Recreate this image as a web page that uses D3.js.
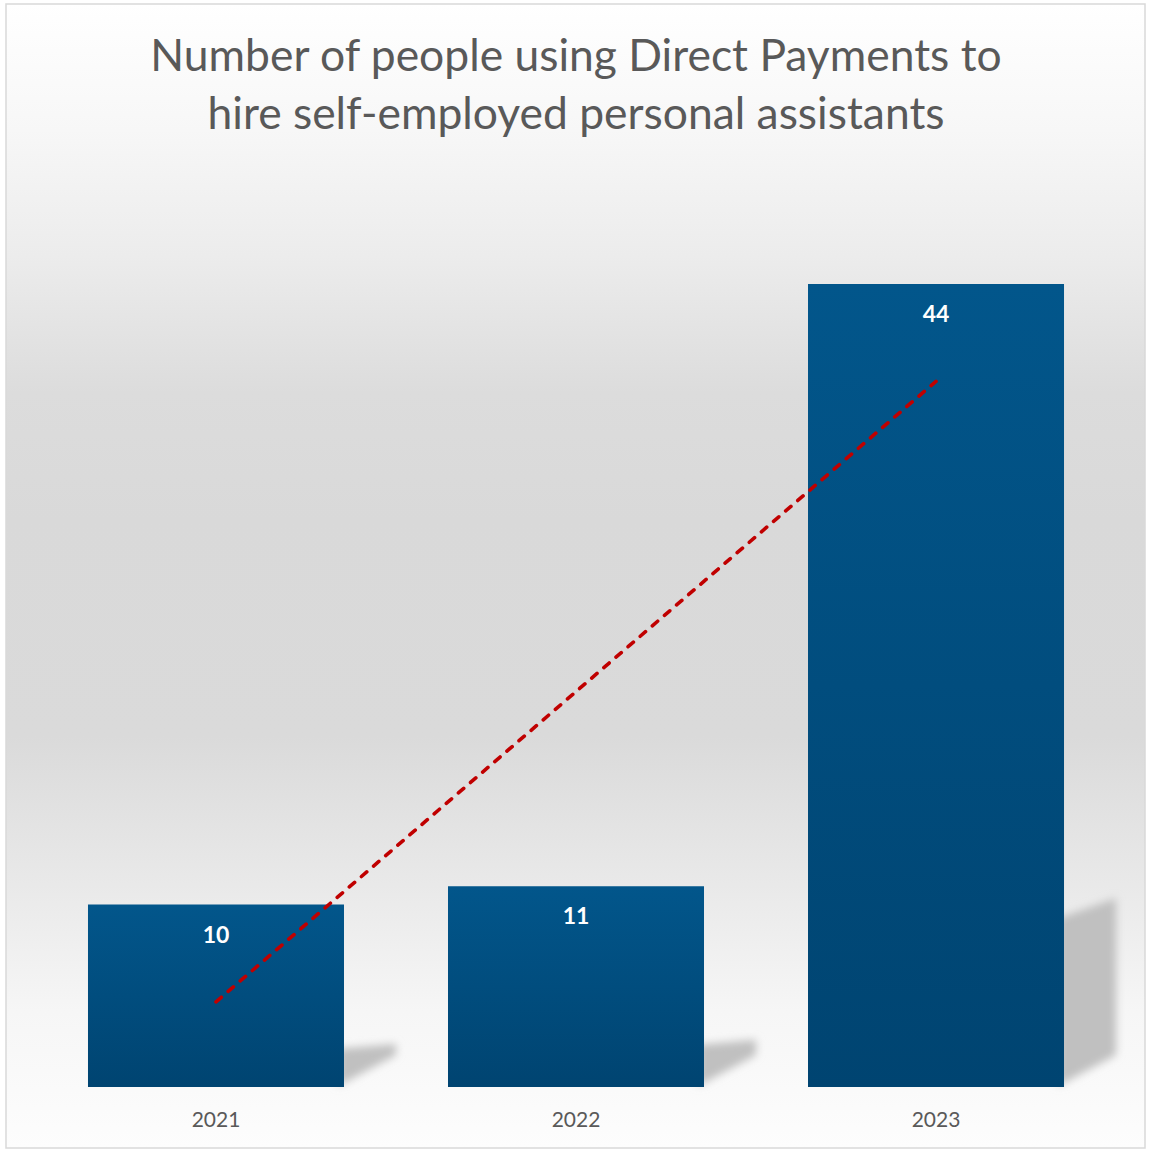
<!DOCTYPE html>
<html>
<head>
<meta charset="utf-8">
<script src="https://cdn.jsdelivr.net/npm/d3@7"></script>
<style>
  html, body { margin: 0; padding: 0; background: #ffffff; }
  svg { display: block; }
</style>
</head>
<body>
<script>
// Chart data
const years = ["2021", "2022", "2023"];
const people = [10, 11, 44];
const titleLines = ["Number of people using Direct Payments to", "hire self-employed personal assistants"];

const W = 1153, H = 1152;
const frame = { x: 6, y: 4, w: 1139, h: 1144 };
const base = 1087;

const svg = d3.select("body").append("svg")
  .attr("width", W).attr("height", H);

const defs = svg.append("defs");

// Chart area background: white at top and bottom, grey in the middle
const bg = defs.append("linearGradient").attr("id", "bgGrad")
  .attr("x1", 0).attr("y1", 0).attr("x2", 0).attr("y2", 1);
[[0, "#ffffff"], [0.11, "#f7f7f7"], [0.22, "#ececec"], [0.34, "#dcdcdc"],
 [0.45, "#d9d9d9"], [0.64, "#dadada"], [0.77, "#e9e9e9"], [0.88, "#f6f6f6"], [1, "#fdfdfd"]]
  .forEach(([o, c]) => bg.append("stop").attr("offset", o).attr("stop-color", c));

// Bar fill gradient
const barGrad = defs.append("linearGradient").attr("id", "barGrad")
  .attr("x1", 0).attr("y1", 0).attr("x2", 0).attr("y2", 1);
barGrad.append("stop").attr("offset", 0).attr("stop-color", "#02568b");
barGrad.append("stop").attr("offset", 1).attr("stop-color", "#004471");

// Soft blur for the cast shadows
defs.append("filter").attr("id", "shadowBlur")
  .attr("x", "-20%").attr("y", "-20%").attr("width", "140%").attr("height", "140%")
  .append("feGaussianBlur").attr("stdDeviation", 4);

svg.append("rect")
  .attr("x", frame.x).attr("y", frame.y)
  .attr("width", frame.w).attr("height", frame.h)
  .attr("fill", "url(#bgGrad)")
  .attr("stroke", "#d9d9d9").attr("stroke-width", 1.5);

// Title
const title = svg.append("text")
  .attr("text-anchor", "middle")
  .attr("font-family", "Lato, 'Open Sans', sans-serif")
  .attr("font-size", 44.4)
  .attr("fill", "#595959");
title.selectAll("tspan").data(titleLines).join("tspan")
  .attr("x", 576).attr("y", (d, i) => 71 + i * 58)
  .text(d => d);

// Scales
const x = d3.scaleBand().domain(years).range([36, 1116])
  .paddingInner(0.2889).paddingOuter(0.1444);
const y = d3.scaleLinear().domain([0, 50]).range([base, base - 50 * 18.25]);

const data = years.map((yr, i) => ({ year: yr, value: people[i] }));

// Perspective shadows cast to the right of each bar
svg.append("g").selectAll("path").data(data).join("path")
  .attr("filter", "url(#shadowBlur)")
  .attr("fill", "#c0c0c0")
  .attr("d", d => {
    const x1 = x(d.year) + x.bandwidth();
    const h = base - y(d.value);
    const dx = 52;
    const pts = [
      [x1 - 6, base - 1],
      [x1 + dx, base - 32],
      [x1 + dx, base - Math.max(34, 0.235 * h)],
      [x1 - 6, base - 0.21 * h]
    ];
    return "M" + pts.map(p => p.join(",")).join("L") + "Z";
  });

// Bars
svg.append("g").selectAll("rect").data(data).join("rect")
  .attr("x", d => x(d.year))
  .attr("y", d => y(d.value))
  .attr("width", x.bandwidth())
  .attr("height", d => base - y(d.value))
  .attr("fill", "url(#barGrad)");

// Value labels inside the bars
svg.append("g").selectAll("text").data(data).join("text")
  .attr("x", d => x(d.year) + x.bandwidth() / 2)
  .attr("y", d => y(d.value) + 38)
  .attr("text-anchor", "middle")
  .attr("font-family", "Lato, 'Open Sans', sans-serif")
  .attr("font-weight", "bold")
  .attr("font-size", 23)
  .attr("fill", "#ffffff")
  .text(d => d.value);

// Category axis (labels only)
const xAxis = svg.append("g")
  .attr("transform", `translate(0,${base})`)
  .call(d3.axisBottom(x).tickSize(0).tickPadding(25));
xAxis.select(".domain").remove();
xAxis.selectAll("text")
  .attr("font-family", "Lato, 'Open Sans', sans-serif")
  .attr("font-size", 21)
  .attr("fill", "#595959");

// Linear trend line (least squares over category index)
const xs = data.map((d, i) => i + 1);
const ys = data.map(d => d.value);
const n = xs.length;
const mx = d3.mean(xs), my = d3.mean(ys);
const slope = d3.sum(xs.map((v, i) => (v - mx) * (ys[i] - my))) / d3.sum(xs.map(v => (v - mx) ** 2));
const intercept = my - slope * mx;
const trend = [1, n].map(i => ({
  cx: x(years[i - 1]) + x.bandwidth() / 2,
  v: intercept + slope * i
}));
svg.append("path")
  .datum(trend)
  .attr("fill", "none")
  .attr("stroke", "#c00000")
  .attr("stroke-width", 3.6)
  .attr("stroke-linecap", "round")
  .attr("stroke-dasharray", "7,9")
  .attr("d", d3.line().x(d => d.cx).y(d => y(d.v)));
</script>
</body>
</html>
